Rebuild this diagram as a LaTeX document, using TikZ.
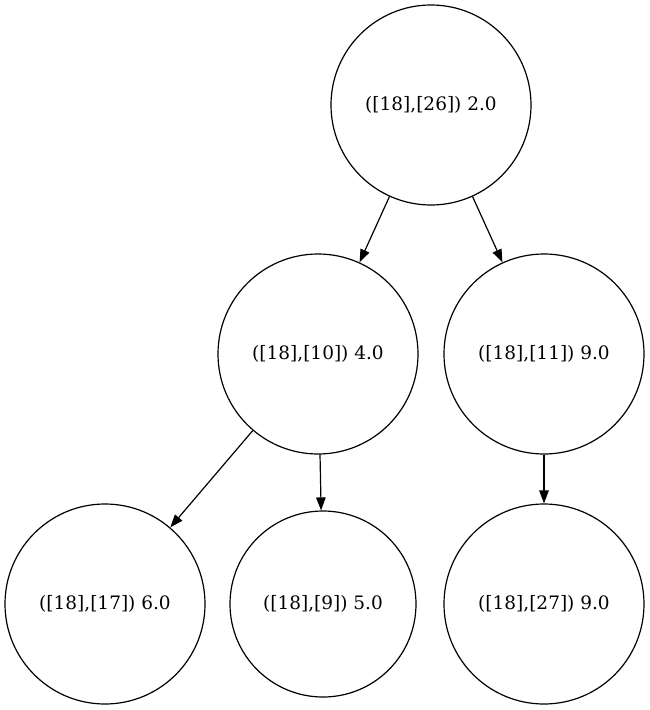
\documentclass[tikz,border=0pt]{standalone}
\usepackage{fontspec}
\setmainfont{DejaVu Serif}
\usetikzlibrary{arrows.meta}
\begin{document}
\begin{tikzpicture}[x=1pt,y=-1pt,
  treenode/.style={draw,circle,line width=1.2pt,inner sep=0pt,minimum size=200pt,
    font=\fontsize{18.5pt}{22pt}\selectfont},
  smallnode/.style={treenode,minimum size=186pt},
  link/.style={draw,line width=1.2pt,-{Triangle[length=13pt,width=9.5pt]}}]
  \useasboundingbox (0,0) rectangle (650,710);
  \node[treenode] (r)   at (431,105) {([18],[26]) 2.0};
  \node[treenode] (a)   at (318,354) {([18],[10]) 4.0};
  \node[treenode] (b)   at (544,354) {([18],[11]) 9.0};
  \node[treenode] (a1)  at (105,604) {([18],[17]) 6.0};
  \node[smallnode] (a2) at (323,604) {([18],[9]) 5.0};
  \node[treenode] (b1)  at (544,604) {([18],[27]) 9.0};
  \draw[link] (r) -- (a);
  \draw[link] (r) -- (b);
  \draw[link] (a) -- (a1);
  \draw[link] (a) -- (a2);
  \draw[link] (b) -- (b1);
\end{tikzpicture}
\end{document}
